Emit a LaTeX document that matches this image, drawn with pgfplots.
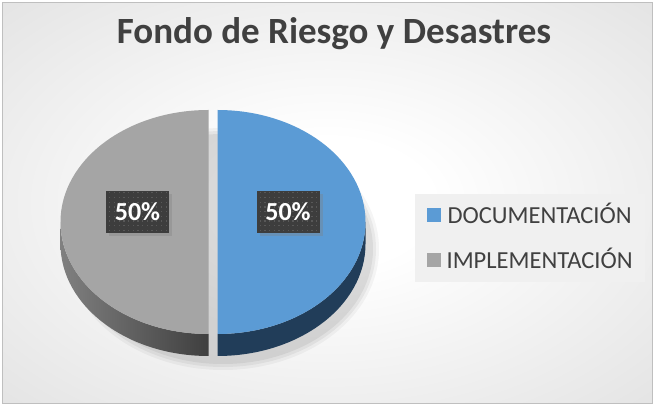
\documentclass[border=0pt]{standalone}
\usepackage{pgfplots}
\pgfplotsset{compat=1.18}
\usepackage{pgfplotstable}
\usepackage{fontspec}
\setmainfont{Carlito}
\usetikzlibrary{patterns,shadows}
\definecolor{piblue}{HTML}{5B9BD5}
\definecolor{pigray}{HTML}{A5A5A5}
\definecolor{blueside}{HTML}{213D59}
\definecolor{grayside1}{HTML}{808080}
\definecolor{grayside2}{HTML}{3F3F3F}
\definecolor{titlec}{HTML}{404040}
\definecolor{legc}{HTML}{404040}
\definecolor{legbg}{HTML}{F0F0F0}
\definecolor{labbg}{HTML}{3D3D3D}
\definecolor{labdot}{HTML}{585858}
\definecolor{bgmid}{HTML}{D6D6D6}
\definecolor{bgedge}{HTML}{C2C2C2}
\pgfdeclareradialshading{bgshade}{\pgfpoint{0bp}{0bp}}{color(0bp)=(white); color(8bp)=(white); color(50bp)=(bgmid); color(71bp)=(bgedge)}
\pgfdeclarepatternformonly{ldots}{\pgfpoint{-1pt}{-1pt}}{\pgfpoint{5pt}{5pt}}{\pgfpoint{4.7pt}{4.7pt}}{\pgfpathrectangle{\pgfpoint{1pt}{1pt}}{\pgfpoint{1.3pt}{1.3pt}}\pgfusepath{fill}}

\pgfplotstableread{
label value
DOCUMENTACION 50
IMPLEMENTACION 50
}\piedata

\begin{document}
\begin{tikzpicture}
\pgfplotstablegetelem{0}{value}\of\piedata \pgfmathsetmacro\vA{\pgfplotsretval}
\pgfplotstablegetelem{1}{value}\of\piedata \pgfmathsetmacro\vB{\pgfplotsretval}
\pgfmathsetmacro\tot{\vA+\vB}
\pgfmathsetmacro\fA{\vA/\tot}
\pgfmathsetmacro\fB{\vB/\tot}
\pgfmathsetmacro\angA{90-360*\fA}
\pgfmathsetmacro\pA{100*\fA}
\pgfmathsetmacro\pB{100*\fB}
\def\rx{148}\def\ry{112}\def\cy{184}\def\dep{22}
\def\cxA{217.5}\def\cxB{208.5}
\begin{axis}[x=1pt,y=1pt,xmin=0,xmax=655,ymin=0,ymax=406,hide axis,clip=false,
  /pgf/number format/assume math mode=true,
  legend cell align=left,
  legend style={at={(axis cs:415,212)},anchor=north west,fill=legbg,draw=none,
    font=\fontsize{24.5}{24.5}\selectfont,text=legc,
    inner xsep=12pt,inner ysep=13pt,row sep=29.5pt,column sep=6pt,
    nodes={inner sep=0pt,text height=16pt,text depth=0pt,anchor=base}},
]
% background
\fill[white] (axis cs:0,0) rectangle (axis cs:655,406);
\shade[shading=bgshade,draw=gray!50] (axis cs:2.5,2.5) rectangle (axis cs:652.5,403.5);
% title
\node[anchor=base,text=titlec,font=\bfseries\fontsize{37}{37}\selectfont] at (axis cs:334,362) {Fondo de Riesgo y Desastres};
% soft shadow
\fill[black,opacity=0.04] (axis cs:223,157) ellipse[x radius=156pt, y radius=121pt];
\fill[black,opacity=0.05] (axis cs:223,157) ellipse[x radius=153pt, y radius=118pt];
\fill[black,opacity=0.06] (axis cs:223,157) ellipse[x radius=150pt, y radius=115pt];
% sides
\fill[blueside] (axis cs:{\cxA+\rx},\cy) arc[start angle=0,end angle=\angA,x radius=\rx pt,y radius=\ry pt]
   -- ++(0pt,-\dep pt) arc[start angle=\angA,end angle=0,x radius=\rx pt,y radius=\ry pt] -- cycle;
\shade[left color=grayside1,right color=grayside2] (axis cs:{\cxB-\rx},\cy) arc[start angle=180,end angle=270,x radius=\rx pt,y radius=\ry pt]
   -- ++(0pt,-\dep pt) arc[start angle=270,end angle=180,x radius=\rx pt,y radius=\ry pt] -- cycle;
% top faces
\fill[piblue] (axis cs:\cxA,\cy) -- (axis cs:\cxA,{\cy+\ry}) arc[start angle=90,end angle=\angA,x radius=\rx pt,y radius=\ry pt] -- cycle;
\fill[pigray] (axis cs:\cxB,\cy) -- (axis cs:{\cxB+\rx*cos(\angA)},{\cy+\ry*sin(\angA)}) arc[start angle=\angA,end angle=-270,x radius=\rx pt,y radius=\ry pt] -- cycle;
% data labels
\node[minimum width=63pt,minimum height=42pt,inner sep=0pt,
  drop shadow={shadow xshift=3pt,shadow yshift=-3pt,opacity=0.35},
  preaction={fill=labbg},pattern=ldots,pattern color=labdot,
  text=white,font=\bfseries\fontsize{26}{26}\selectfont] at (axis cs:288,194) {\pgfmathprintnumber[fixed,precision=0,assume math mode=true]{\pA}\%};
\node[minimum width=63pt,minimum height=42pt,inner sep=0pt,
  drop shadow={shadow xshift=3pt,shadow yshift=-3pt,opacity=0.35},
  preaction={fill=labbg},pattern=ldots,pattern color=labdot,
  text=white,font=\bfseries\fontsize{26}{26}\selectfont] at (axis cs:137.5,194) {\pgfmathprintnumber[fixed,precision=0,assume math mode=true]{\pB}\%};
% legend
\addlegendimage{legend image code/.code={\fill[piblue] (0pt,2pt) rectangle (13pt,15pt);}}
\addlegendentry{DOCUMENTACIÓN}
\addlegendimage{legend image code/.code={\fill[pigray] (0pt,2pt) rectangle (13pt,15pt);}}
\addlegendentry{IMPLEMENTACIÓN}
\end{axis}
\end{tikzpicture}
\end{document}
